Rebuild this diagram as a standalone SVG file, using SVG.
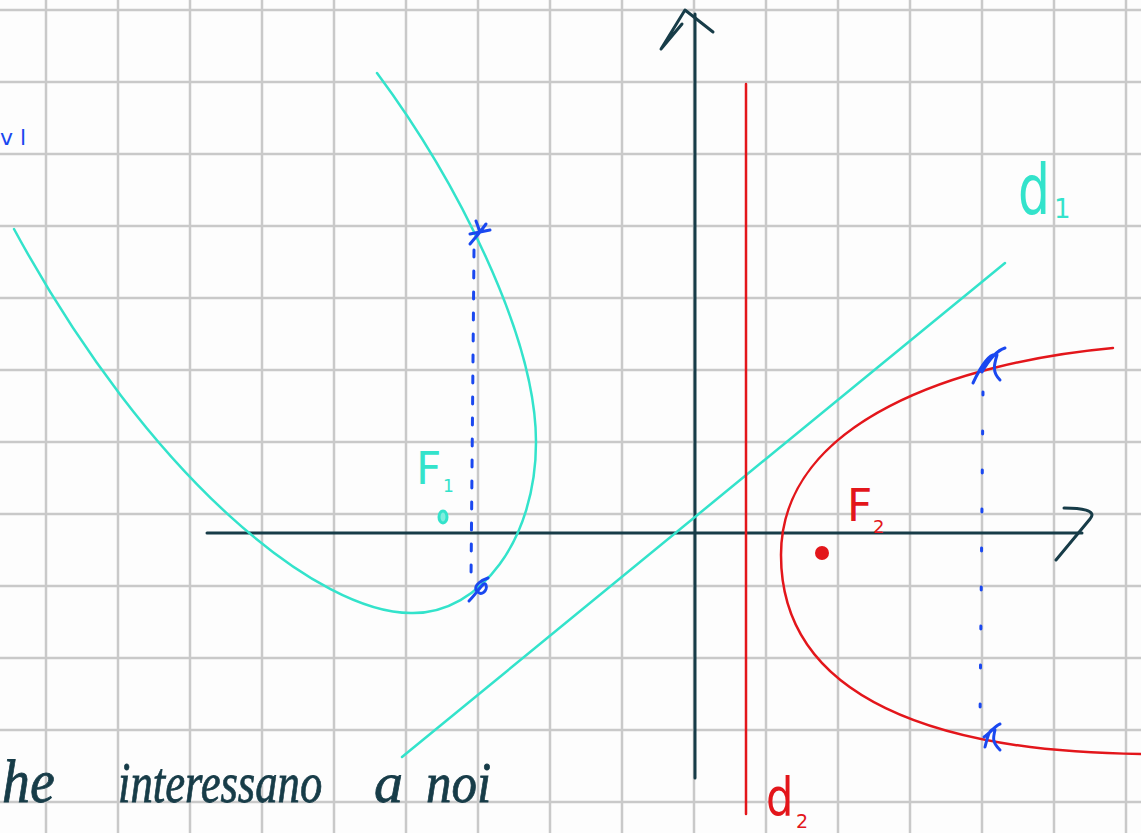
<svg xmlns="http://www.w3.org/2000/svg" width="1141" height="833" viewBox="0 0 1141 833">
<style>
.grid{stroke:#c9c9c9;stroke-width:2.5;fill:none}
.axis{stroke:#173c48;stroke-width:3;fill:none;stroke-linecap:round;stroke-linejoin:round}
.cyan{stroke:#33e3cb;stroke-width:2.5;fill:none;stroke-linecap:round}
.red{stroke:#e3161b;stroke-width:2.5;fill:none;stroke-linecap:round}
.blue{stroke:#1a48f0;stroke-width:3;fill:none;stroke-linecap:round;stroke-linejoin:round}
.hand{font-family:"DejaVu Sans",sans-serif;font-weight:normal}
.note{font-family:"Liberation Serif",serif;font-style:italic;fill:#173c48;stroke:#173c48;stroke-width:0.8}
</style>
<rect width="1141" height="833" fill="#fdfdfd"/>
<g id="grid">
<path class="grid" d="M46,0V833M118,0V833M190,0V833M262,0V833M334,0V833M406,0V833M478,0V833M550,0V833M622,0V833M694,0V833M766,0V833M838,0V833M910,0V833M982,0V833M1054,0V833M1126,0V833"/>
<path class="grid" d="M0,10H1141M0,82H1141M0,154H1141M0,226H1141M0,298H1141M0,370H1141M0,442H1141M0,514H1141M0,586H1141M0,658H1141M0,730H1141M0,802H1141"/>
</g>
<g id="connectors">
<g id="x-axis">
<path class="axis" d="M207,533H1082"/>
<path class="axis" d="M1064,508C1080,508 1098,510 1090,519L1056,560"/>
</g>
<g id="y-axis">
<path class="axis" d="M695,778V14"/>
<path class="axis" d="M682,24L661,49L685,10L713,32"/>
</g>
<g id="d1-line"><path class="cyan" d="M402,757L1005,263"/></g>
<g id="d2-line"><path class="red" d="M746,84V814" stroke-width="3"/></g>
<g id="parabola1"><path class="cyan" d="M377,73C455,178 536,335 536,442C536,540 480,613 413,613C320,615 150,480 14,229"/></g>
<g id="parabola2"><path class="red" d="M1113,348C960,362 781,420 781,555C781,700 940,752 1141,754"/></g>
<g id="chord1"><path class="blue" d="M474,250L471,580" stroke-dasharray="7 14"/></g>
<g id="chord2"><path class="blue" d="M983,392L980,722" stroke-dasharray="3 36"/></g>
</g>
<g id="marks">
<path class="blue" d="M470,244L480,232L476,221M480,232L486,224M480,232L490,230M480,232L470,234"/>
<path class="blue" d="M469,601C478,592 484,580 486,585C488,590 481,598 476,590C474,585 482,580 488,578"/>
<path class="blue" d="M973,383C980,368 990,352 997,355C994,365 992,372 1000,380M982,372C986,365 995,351 1005,348"/>
<path class="blue" d="M985,747C988,735 990,727 995,730C993,738 992,742 1000,750M984,737C990,733 996,725 1000,724"/>
</g>
<g id="F1">
<ellipse cx="443" cy="517" rx="4" ry="6" fill="#7eeede" stroke="#33e3cb" stroke-width="3"/>
<text class="hand" x="416" y="484" font-size="44" fill="#33e3cb">F</text>
<text class="hand" x="443" y="492" font-size="17" fill="#33e3cb">1</text>
</g>
<g id="F2">
<circle cx="822" cy="553" r="7" fill="#e3161b"/>
<text class="hand" x="847" y="521" font-size="44" fill="#e3161b">F</text>
<text class="hand" x="873" y="533" font-size="18" fill="#e3161b">2</text>
</g>
<g id="d1">
<text class="hand" font-size="70" fill="#33e3cb" transform="translate(1018,214) scale(0.72,1)">d</text>
<text class="hand" x="1054" y="218" font-size="26" fill="#33e3cb">1</text>
</g>
<g id="d2">
<text class="hand" font-size="54" fill="#e3161b" transform="translate(766,816) scale(0.8,1)">d</text>
<text class="hand" x="796" y="828" font-size="19" fill="#e3161b">2</text>
</g>
<g id="notes">
<text class="hand" x="0" y="145" font-size="22" fill="#1a48f0">v l</text>
<text class="note" font-size="62" transform="translate(2,802) scale(0.9,1)">he</text>
<text class="note" font-size="58" transform="translate(118,802) scale(0.77,1)">interessano</text>
<text class="note" font-size="58" x="374" y="802">a</text>
<text class="note" font-size="58" transform="translate(426,802) scale(0.88,1)">noi</text>
</g>
</svg>
